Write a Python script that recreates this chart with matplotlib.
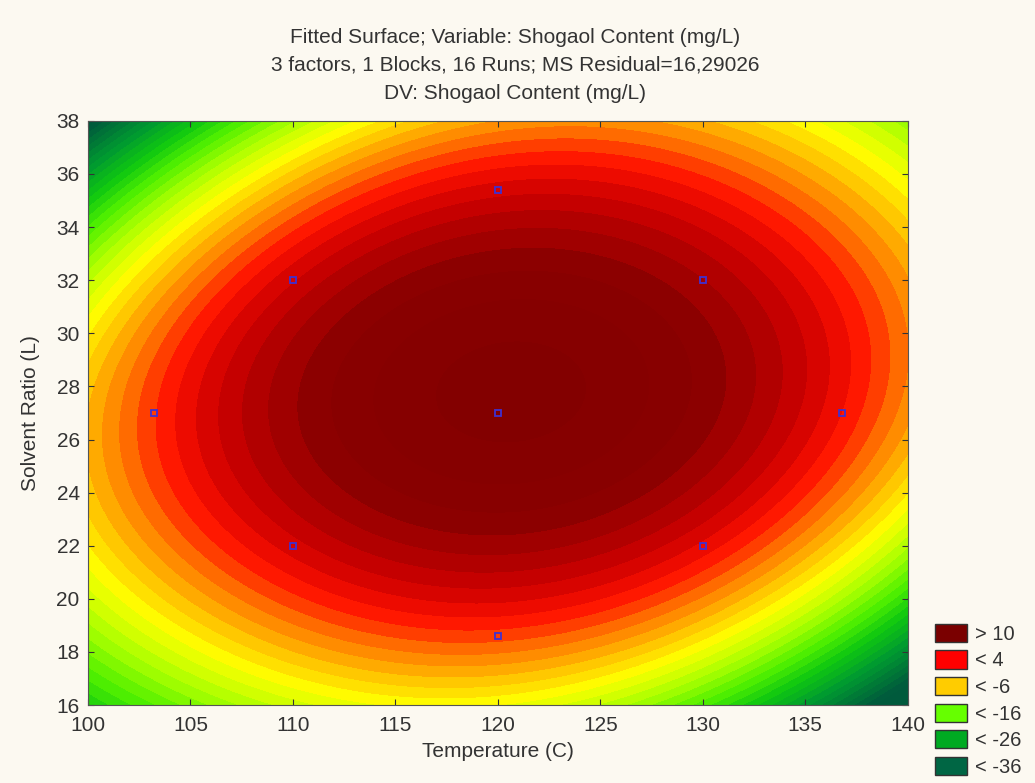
import numpy as np
import matplotlib
matplotlib.use("Agg")
import matplotlib.pyplot as plt
from matplotlib.colors import LinearSegmentedColormap
from matplotlib.patches import Patch

plt.rcParams['font.family'] = ['Liberation Sans', 'DejaVu Sans']

# Fitted surface coefficients (coded units u=(T-120)/20, v=(S-27)/11)
coef_const = 14.0
coef_u = 1.0
coef_v = 3.0
coef_uu = -19.0
coef_vv = -21.5
coef_uv = 3.0
coef_uv_r2 = 9.0     # u*v*(u^2+v^2)/2
coef_uuvv = -5.5

# Design points (experimental runs)
design_x = [103.2, 110, 110, 120, 120, 120, 130, 130, 136.8]
design_y = [27, 22, 32, 18.6, 27, 35.4, 22, 32, 27]

# Legend
legend_labels = ['> 10', '< 4', '< -6', '< -16', '< -26', '< -36']
legend_colors = ['#7a0000', '#ff0000', '#ffcc00', '#66ff00', '#00aa22', '#006644']

# colour map anchors
cmap_vals = [-40, -31, -25, -20, -15, -10, -7, -3, 1, 5, 10, 18]
cmap_cols = ['#005a3c', '#009a30', '#10c810', '#50f000', '#aaff00', '#ffff00',
             '#ffcc00', '#ff8000', '#ff1000', '#c80000', '#8a0000', '#7e0000']
levels = np.arange(-45, 19, 1.5)

fig = plt.figure(figsize=(10.35, 7.83), dpi=100, facecolor='#fcf9f1')
ax = fig.add_axes([0.085, 0.0996, 0.792, 0.746])

x = np.linspace(100, 140, 300)
y = np.linspace(16, 38, 300)
X, Y = np.meshgrid(x, y)
U = (X - 120) / 20.0
V = (Y - 27) / 11.0
Z = (coef_const + coef_u * U + coef_v * V + coef_uu * U**2 + coef_vv * V**2
     + coef_uv * U * V + coef_uv_r2 * U * V * (U**2 + V**2) / 2
     + coef_uuvv * U**2 * V**2)

lo, hi = cmap_vals[0], cmap_vals[-1]
pos = [(v - lo) / (hi - lo) for v in cmap_vals]
cmap = LinearSegmentedColormap.from_list('stat', list(zip(pos, cmap_cols)))
Zc = np.clip(Z, levels[0] + 0.01, levels[-1] - 0.01)
ax.contourf(X, Y, Zc, levels=levels, cmap=cmap, vmin=lo, vmax=hi)

ax.plot(design_x, design_y, 's', ms=5, mfc='none', mec='#4030d0', mew=1.3)

ax.set_xlim(100, 140)
ax.set_ylim(16, 38)
ax.set_xticks(np.arange(100, 141, 5))
ax.set_yticks(np.arange(16, 39, 2))
ax.tick_params(direction='in', top=True, right=True, labelsize=15,
               length=4, colors='#333333', labelcolor='#333333')
ax.tick_params(axis='x', pad=8)
ax.tick_params(axis='y', pad=6)
for s in ax.spines.values():
    s.set_color('#555555')
ax.set_xlabel('Temperature (C)', fontsize=15, color='#333333', labelpad=5)
ax.set_ylabel('Solvent Ratio (L)', fontsize=15, color='#333333', labelpad=12)

fig.text(0.498, 0.952, 'Fitted Surface; Variable: Shogaol Content (mg/L)',
         ha='center', va='center', fontsize=15, color='#333333')
fig.text(0.498, 0.917, '3 factors, 1 Blocks, 16 Runs; MS Residual=16,29026',
         ha='center', va='center', fontsize=15, color='#333333')
fig.text(0.498, 0.881, 'DV: Shogaol Content (mg/L)',
         ha='center', va='center', fontsize=15, color='#333333')

handles = [Patch(facecolor=c, edgecolor='#333333', linewidth=1) for c in legend_colors]
fig.legend(handles, legend_labels, loc='lower left', bbox_to_anchor=(0.886, -0.015),
           frameon=False, fontsize=14.5, handlelength=1.6, handleheight=1.0,
           labelspacing=0.33, handletextpad=0.4, borderpad=0.4,
           labelcolor='#333333')

fig.savefig('out.png', dpi=100, facecolor=fig.get_facecolor())
